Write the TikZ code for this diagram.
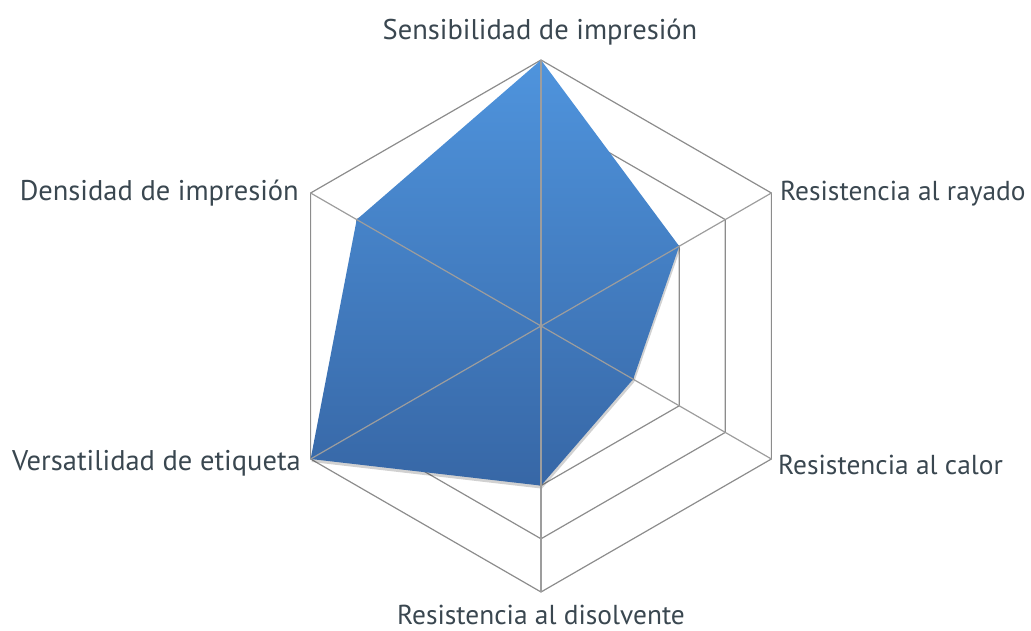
\documentclass[tikz,border=0pt]{standalone}
\usepackage{fontspec}
\setmainfont{PT Sans}
\usetikzlibrary{calc}
\definecolor{txt}{HTML}{3A4750}
\definecolor{gridc}{HTML}{8C8C8C}
\definecolor{topb}{HTML}{4F94DD}
\definecolor{botb}{HTML}{3767A6}
\begin{document}
\begin{tikzpicture}[x=1pt,y=-1pt,
  lbl/.style={text=txt,font=\fontsize{28.5}{32}\selectfont,inner sep=0pt},
  lbls/.style={text=txt,font=\fontsize{27.4}{31}\selectfont,inner sep=0pt},
  gridline/.style={draw=gridc,line width=1.2pt},
  spoke/.style={draw=gridc!85,line width=1.2pt}]
\useasboundingbox (0,0) rectangle (1031,631);
\coordinate (O) at (541,326);
% axis directions: 1 top, 2 upper right, 3 lower right, 4 bottom, 5 lower left, 6 upper left
\foreach \i/\a in {1/90,2/30,3/-30,4/-90,5/-150,6/150}{
  \foreach \k in {1,...,5}{
    \coordinate (g\i-\k) at ($(O)+({cos(\a)*266*\k/5},{-sin(\a)*266*\k/5})$);
  }
}
% grid hexagons
\foreach \k in {1,...,5}{
  \draw[gridline] (g1-\k) -- (g2-\k) -- (g3-\k) -- (g4-\k) -- (g5-\k) -- (g6-\k) -- cycle;
}
% data polygon: 5,3,2,3,5,4
\coordinate (d1) at (g1-5);
\coordinate (d2) at (g2-3);
\coordinate (d3) at (g3-2);
\coordinate (d4) at (g4-3);
\coordinate (d5) at (g5-5);
\coordinate (d6) at (g6-4);
\fill[black,opacity=0.18] ($(d1)+(1,3)$) -- ($(d2)+(1,3)$) -- ($(d3)+(1,3)$) -- ($(d4)+(1,3)$) -- ($(d5)+(1,3)$) -- ($(d6)+(1,3)$) -- cycle;
\shade[top color=topb,bottom color=botb] (d1) -- (d2) -- (d3) -- (d4) -- (d5) -- (d6) -- cycle;
% spokes
\foreach \i in {1,...,6}{
  \draw[spoke] (O) -- (g\i-5);
}
% labels
\node[lbl,anchor=base] (l1) at (540,40) {Sensibilidad de impresión};
\node[lbls,anchor=west] (l2) at (780,194) {Resistencia al rayado};
\node[lbls,anchor=west] (l3) at (778,465) {Resistencia al calor};
\node[lbls,anchor=base] (l4) at (541,624) {Resistencia al disolvente};
\node[lbl,anchor=east] (l5) at (301,463) {Versatilidad de etiqueta};
\node[lbl,anchor=east] (l6) at (299,193) {Densidad de impresión};
\end{tikzpicture}
\end{document}
